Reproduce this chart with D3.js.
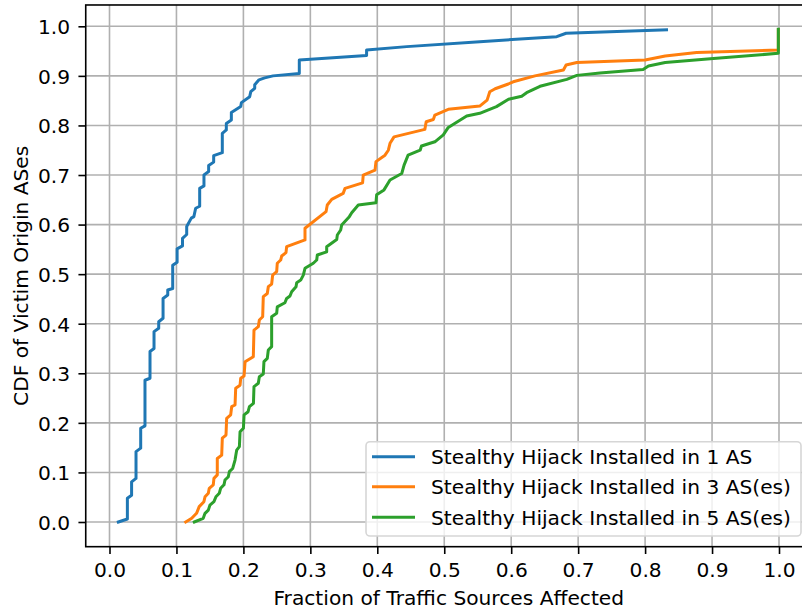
<!DOCTYPE html>
<html>
<head>
<meta charset="utf-8">
<script src="https://cdn.jsdelivr.net/npm/d3@7"></script>
<style>
  html, body { margin: 0; padding: 0; background: #fff; }
  svg { display: block; font-family: "DejaVu Sans", sans-serif; }
</style>
</head>
<body>
<svg id="chart" width="802" height="612"></svg>
<script>
// ---- Data ----
const seriesNames = [
  "Stealthy Hijack Installed in 1 AS",
  "Stealthy Hijack Installed in 3 AS(es)",
  "Stealthy Hijack Installed in 5 AS(es)"
];
const seriesColors = ["#1f77b4", "#ff7f0e", "#2ca02c"];

const oneAS = [[0.0132,0],[0.0267,0.006],[0.0267,0.048],[0.033,0.054],[0.033,0.081],[0.0396,0.088],[0.0396,0.142],[0.0466,0.149],[0.0466,0.189],[0.053,0.194],[0.053,0.286],[0.0605,0.290],[0.0605,0.344],[0.0665,0.350],[0.0665,0.384],[0.0735,0.391],[0.0735,0.404],[0.080,0.411],[0.080,0.451],[0.087,0.458],[0.087,0.468],[0.0944,0.471],[0.0944,0.518],[0.101,0.524],[0.101,0.551],[0.109,0.557],[0.109,0.572],[0.1153,0.58],[0.1153,0.596],[0.1222,0.613],[0.126,0.616],[0.1287,0.633],[0.1347,0.637],[0.1347,0.673],[0.1411,0.678],[0.1411,0.700],[0.1481,0.707],[0.1481,0.719],[0.1556,0.726],[0.1556,0.739],[0.1685,0.745],[0.1685,0.784],[0.1745,0.791],[0.1745,0.804],[0.182,0.811],[0.182,0.826],[0.196,0.838],[0.197,0.846],[0.2094,0.858],[0.211,0.868],[0.2169,0.875],[0.2169,0.882],[0.2233,0.892],[0.2318,0.896],[0.2442,0.900],[0.2835,0.905],[0.2835,0.932],[0.384,0.941],[0.384,0.952],[0.444,0.959],[0.553,0.969],[0.668,0.979],[0.682,0.986],[0.832,0.993]];

const threeAS = [[0.1138,0],[0.1228,0.0075],[0.130,0.0175],[0.134,0.031],[0.141,0.041],[0.1427,0.051],[0.1476,0.058],[0.149,0.068],[0.155,0.075],[0.156,0.088],[0.161,0.095],[0.161,0.128],[0.1676,0.135],[0.1685,0.169],[0.174,0.1755],[0.175,0.209],[0.181,0.216],[0.1825,0.2326],[0.1875,0.236],[0.1885,0.270],[0.195,0.276],[0.196,0.290],[0.201,0.2945],[0.2025,0.3234],[0.2148,0.3335],[0.2158,0.387],[0.2223,0.394],[0.2238,0.4075],[0.2288,0.414],[0.2297,0.4545],[0.2357,0.461],[0.2372,0.4747],[0.2422,0.480],[0.2437,0.498],[0.2497,0.505],[0.2506,0.522],[0.2557,0.5285],[0.2572,0.5366],[0.2636,0.5433],[0.2646,0.5554],[0.292,0.569],[0.292,0.5925],[0.3234,0.626],[0.3253,0.6395],[0.3319,0.651],[0.349,0.663],[0.3518,0.673],[0.378,0.684],[0.379,0.700],[0.3966,0.710],[0.398,0.727],[0.4115,0.740],[0.4165,0.750],[0.419,0.764],[0.425,0.777],[0.471,0.792],[0.473,0.8075],[0.4837,0.812],[0.486,0.821],[0.506,0.8325],[0.553,0.839],[0.564,0.851],[0.568,0.868],[0.576,0.874],[0.5957,0.8836],[0.603,0.888],[0.6355,0.900],[0.678,0.912],[0.682,0.922],[0.698,0.927],[0.80,0.932],[0.830,0.940],[0.877,0.947],[0.999,0.952],[0.999,0.993]];

const fiveAS = [[0.1267,0],[0.140,0.0075],[0.1427,0.0175],[0.1476,0.024],[0.150,0.034],[0.156,0.041],[0.159,0.051],[0.164,0.058],[0.166,0.068],[0.171,0.075],[0.1725,0.0847],[0.1775,0.0914],[0.179,0.1015],[0.184,0.108],[0.1875,0.125],[0.190,0.145],[0.194,0.152],[0.195,0.182],[0.200,0.189],[0.201,0.216],[0.207,0.2225],[0.209,0.2326],[0.215,0.2394],[0.2158,0.273],[0.2223,0.280],[0.2238,0.293],[0.2297,0.2986],[0.2307,0.3234],[0.2357,0.330],[0.2372,0.347],[0.2422,0.3537],[0.2422,0.414],[0.2497,0.421],[0.2506,0.434],[0.262,0.4424],[0.2646,0.451],[0.2696,0.456],[0.2721,0.4646],[0.2786,0.4747],[0.2796,0.4828],[0.2856,0.488],[0.2895,0.498],[0.292,0.5118],[0.3044,0.522],[0.3095,0.5285],[0.3104,0.5386],[0.3244,0.545],[0.3244,0.5554],[0.3394,0.570],[0.3403,0.579],[0.3453,0.589],[0.3468,0.599],[0.3582,0.616],[0.3618,0.624],[0.3716,0.6395],[0.398,0.644],[0.399,0.660],[0.410,0.670],[0.419,0.690],[0.4365,0.703],[0.44,0.720],[0.446,0.740],[0.464,0.750],[0.466,0.7585],[0.486,0.767],[0.4986,0.781],[0.506,0.796],[0.5335,0.819],[0.553,0.8245],[0.578,0.838],[0.596,0.853],[0.6157,0.859],[0.623,0.866],[0.643,0.879],[0.683,0.893],[0.698,0.901],[0.7326,0.906],[0.797,0.913],[0.805,0.920],[0.830,0.927],[0.902,0.935],[0.999,0.9455],[0.999,0.994]];

const xTicks = [0.0,0.1,0.2,0.3,0.4,0.5,0.6,0.7,0.8,0.9,1.0];
const yTicks = [0.0,0.1,0.2,0.3,0.4,0.5,0.6,0.7,0.8,0.9,1.0];
const xLabel = "Fraction of Traffic Sources Affected";
const yLabel = "CDF of Victim Origin ASes";

// ---- Layout ----
(function () {
const svg = d3.select("#chart");
const FS = 20.2;
const xDom = [-0.0355, 1.049];
const yDom = [-0.0498, 1.043];
const x = d3.scaleLinear().domain([0, 1]).range([109.5, 779]);
const y = d3.scaleLinear().domain([0, 1]).range([522, 26.3]);
const pL = x(xDom[0]), pR = x(xDom[1]);
const pT = y(yDom[1]), pB = y(yDom[0]);

svg.append("rect").attr("width", 802).attr("height", 612).attr("fill", "#fff");

// grid
const grid = svg.append("g");
grid.selectAll(".gx").data(xTicks).join("line")
  .attr("x1", d => x(d)).attr("x2", d => x(d))
  .attr("y1", pT).attr("y2", pB)
  .attr("stroke", "#b0b0b0").attr("stroke-width", 1.6);
grid.selectAll(".gy").data(yTicks).join("line")
  .attr("y1", d => y(d)).attr("y2", d => y(d))
  .attr("x1", pL).attr("x2", pR)
  .attr("stroke", "#b0b0b0").attr("stroke-width", 1.6);

// lines
svg.append("clipPath").attr("id", "clip").append("rect")
  .attr("x", pL).attr("y", pT).attr("width", pR - pL).attr("height", pB - pT);
const line = d3.line().x(d => x(d[0])).y(d => y(d[1]));
const allSeries = [oneAS, threeAS, fiveAS];
svg.append("g").attr("clip-path", "url(#clip)")
  .selectAll("path").data(allSeries).join("path")
  .attr("d", d => line(d))
  .attr("fill", "none")
  .attr("stroke", (d, i) => seriesColors[i])
  .attr("stroke-width", 3)
  .attr("stroke-linejoin", "round")
  .attr("stroke-linecap", "square");

// axes via d3
const xAxis = d3.axisBottom(x).tickValues(xTicks).tickFormat(d3.format(".1f")).tickSize(7.3).tickPadding(5);
const yAxis = d3.axisLeft(y).tickValues(yTicks).tickFormat(d3.format(".1f")).tickSize(7.3).tickPadding(6);
const gx = svg.append("g").attr("transform", `translate(0,${pB})`).call(xAxis);
const gy = svg.append("g").attr("transform", `translate(${pL},0)`).call(yAxis);
[gx, gy].forEach(g => {
  g.select(".domain").remove();
  g.selectAll(".tick line").attr("stroke", "#000").attr("stroke-width", 1.6);
  g.selectAll(".tick text").attr("fill", "#000")
    .style("font-family", "DejaVu Sans").style("font-size", FS + "px");
});
gx.selectAll(".tick text").attr("dy", null).attr("y", 30);
gy.selectAll(".tick text").attr("dy", null).attr("y", 7.3).attr("x", -15.7);

// spines
svg.append("rect").attr("x", pL).attr("y", pT)
  .attr("width", pR - pL).attr("height", pB - pT)
  .attr("fill", "none").attr("stroke", "#000").attr("stroke-width", 1.6);

// axis labels
svg.append("text").attr("x", (pL + pR) / 2).attr("y", 604.5)
  .attr("text-anchor", "middle").style("font-size", FS + "px").text(xLabel);
svg.append("text")
  .attr("transform", `translate(28,${(pT + pB) / 2}) rotate(-90)`)
  .attr("text-anchor", "middle").style("font-size", FS + "px").text(yLabel);

// legend
const lg = svg.append("g");
lg.append("rect").attr("x", 366).attr("y", 441.7).attr("width", 435).attr("height", 94.3)
  .attr("rx", 4).attr("fill", "#fff").attr("fill-opacity", 0.8)
  .attr("stroke", "#d6d6d6").attr("stroke-width", 1.6);
const rowsY = [456.7, 486.7, 517.3];
seriesNames.forEach((name, i) => {
  lg.append("line").attr("x1", 372).attr("x2", 415)
    .attr("y1", rowsY[i]).attr("y2", rowsY[i])
    .attr("stroke", seriesColors[i]).attr("stroke-width", 3);
  lg.append("text").attr("x", 431).attr("y", rowsY[i] + 7.3)
    .style("font-size", FS + "px").text(name);
});
})();
</script>
</body>
</html>
